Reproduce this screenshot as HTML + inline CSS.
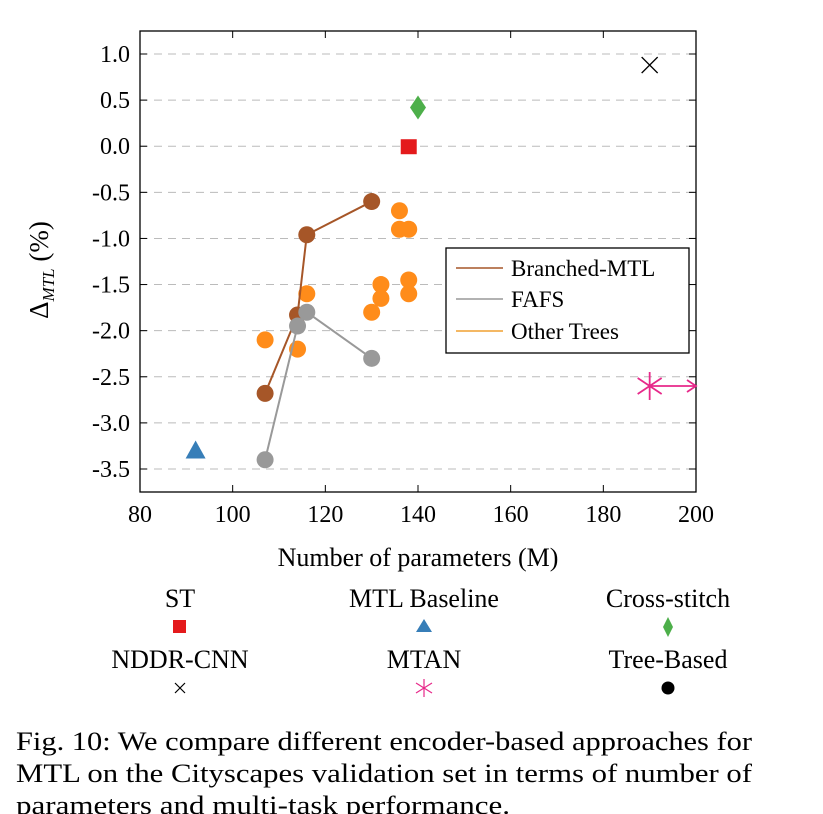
<!DOCTYPE html>
<html><head><meta charset="utf-8"><style>
html,body{margin:0;padding:0;background:#fff;}
svg{display:block;font-family:"Liberation Serif",serif;}
</style></head><body>
<svg id="chart" width="823" height="814" viewBox="0 0 823 814" xmlns="http://www.w3.org/2000/svg">
<g id="grid"></g>
<g id="axes"></g>
<g id="series"></g>
<g>
  <rect x="446" y="248" width="243" height="105" fill="#fff" stroke="#000" stroke-width="1.3"/>
  <line x1="456" y1="268" x2="503" y2="268" stroke="#a65628" stroke-width="1.5"/>
  <text x="511" y="276" font-size="23">Branched-MTL</text>
  <line x1="456" y1="299" x2="503" y2="299" stroke="#999" stroke-width="1.5"/>
  <text x="511" y="307" font-size="23">FAFS</text>
  <line x1="456" y1="331" x2="503" y2="331" stroke="#f0a030" stroke-width="1.5"/>
  <text x="511" y="339" font-size="23">Other Trees</text>
</g>
<text x="418" y="566" font-size="26" text-anchor="middle">Number of parameters (M)</text>
<text transform="translate(48,270) rotate(-90)" font-size="27" text-anchor="middle">Δ<tspan font-size="17" font-style="italic" dy="6">MTL</tspan><tspan dy="-6"> (%)</tspan></text>
<g font-size="26" text-anchor="middle">
  <text x="180" y="607">ST</text>
  <rect x="173" y="620" width="13" height="13" fill="#e41a1c"/>
  <text x="424" y="607">MTL Baseline</text>
  <polygon points="424,619 432,632 416,632" fill="#377eb8"/>
  <text x="668" y="607">Cross-stitch</text>
  <polygon points="668,617 673,627 668,637 663,627" fill="#4daf4a"/>
  <text x="180" y="668">NDDR-CNN</text>
  <path d="M175,683L185,693M185,683L175,693" stroke="#000" stroke-width="1.2"/>
  <text x="424" y="668">MTAN</text>
  <g stroke="#e7298a" stroke-width="1.2">
    <line x1="424" y1="679" x2="424" y2="697"/><line x1="416" y1="683" x2="432" y2="693"/><line x1="432" y1="683" x2="416" y2="693"/>
  </g>
  <text x="668" y="668">Tree-Based</text>
  <circle cx="668" cy="688" r="6.5" fill="#000"/>
</g>
<g font-size="26">
  <text x="16" y="750" textLength="736" lengthAdjust="spacingAndGlyphs">Fig. 10: We compare different encoder-based approaches for</text>
  <text x="16" y="782" textLength="736" lengthAdjust="spacingAndGlyphs">MTL on the Cityscapes validation set in terms of number of</text>
  <text x="16" y="814" textLength="494" lengthAdjust="spacingAndGlyphs">parameters and multi-task performance.</text>
</g>
</svg>
<script>
const xTicks = [80, 100, 120, 140, 160, 180, 200];
const yTicks = [1.0, 0.5, 0.0, -0.5, -1.0, -1.5, -2.0, -2.5, -3.0, -3.5];
const branchedX = [107, 114, 116, 130];
const branchedY = [-2.68, -1.83, -0.96, -0.6];
const fafsX = [107, 114, 116, 130];
const fafsY = [-3.4, -1.95, -1.8, -2.3];
const otherX = [107, 114, 116, 130, 132, 132, 136, 136, 138, 138, 138];
const otherY = [-2.1, -2.2, -1.6, -1.8, -1.65, -1.5, -0.7, -0.9, -0.9, -1.45, -1.6];
const stPoint = [138, 0.0];
const crossPoint = [140, 0.42];
const nddrPoint = [190, 0.88];
const mtlPoint = [92, -3.3];
const mtanPoint = [190, -2.6];

const NS = 'http://www.w3.org/2000/svg';
const L = 140, R = 696, T = 31, B = 492;
const xs = v => L + (v - 80) / 120 * (R - L);
const ys = v => 54 + (1 - v) / 4.5 * (469 - 54);
function mk(tag, attrs, parent) {
  const e = document.createElementNS(NS, tag);
  for (const k in attrs) e.setAttribute(k, attrs[k]);
  parent.appendChild(e);
  return e;
}
const grid = document.getElementById('grid');
const axes = document.getElementById('axes');
const series = document.getElementById('series');

yTicks.forEach(v => {
  const g = mk('line', {x1: L, x2: R, y1: ys(v), y2: ys(v), stroke: '#bbb', 'stroke-dasharray': '8,6', 'stroke-width': 1}, grid);
  
  
  const t = mk('text', {x: 130, y: ys(v) + 8, 'font-size': 24, 'text-anchor': 'end'}, axes);
  t.textContent = v.toFixed(1);
  
  
  mk('line', {x1: L, x2: L + 7, y1: ys(v), y2: ys(v), stroke: '#000'}, axes);
  mk('line', {x1: R - 7, x2: R, y1: ys(v), y2: ys(v), stroke: '#000'}, axes);
});
xTicks.forEach(v => {
  const t = mk('text', {x: xs(v), y: 522, 'font-size': 24, 'text-anchor': 'middle'}, axes);
  t.textContent = v;
  
  
  mk('line', {x1: xs(v), x2: xs(v), y1: B, y2: B - 7, stroke: '#000'}, axes);
  mk('line', {x1: xs(v), x2: xs(v), y1: T, y2: T + 7, stroke: '#000'}, axes);
});
const frame = mk('rect', {x: L, y: T, width: R - L, height: B - T, fill: 'none', stroke: '#000', 'stroke-width': 1.3}, axes);



function lineSeries(X, Y, color, name) {
  const p = mk('polyline', {points: X.map((x, i) => xs(x) + ',' + ys(Y[i])).join(' '), fill: 'none', stroke: color, 'stroke-width': 2}, series);
  
  
}
function dots(X, Y, color, name) {
  X.forEach((x, i) => {
    const c = mk('circle', {cx: xs(x), cy: ys(Y[i]), r: 8.5, fill: color}, series);
    
    
  });
}
dots(otherX, otherY, '#ff8c1a', 'other-trees');
lineSeries(branchedX, branchedY, '#a65628', 'branched-mtl');
dots(branchedX, branchedY, '#a65628', 'branched-mtl');
lineSeries(fafsX, fafsY, '#999', 'fafs');
dots(fafsX, fafsY, '#999', 'fafs');

let x, y, e;
x = xs(stPoint[0]); y = ys(stPoint[1]);
e = mk('rect', {x: x - 8, y: y - 7, width: 16, height: 15, fill: '#e41a1c'}, series);


x = xs(crossPoint[0]); y = ys(crossPoint[1]);
e = mk('polygon', {points: `${x},${y-12} ${x+8},${y} ${x},${y+12} ${x-8},${y}`, fill: '#4daf4a'}, series);


x = xs(mtlPoint[0]); y = ys(mtlPoint[1]);
e = mk('polygon', {points: `${x},${y-10} ${x+10},${y+8} ${x-10},${y+8}`, fill: '#377eb8'}, series);


x = xs(nddrPoint[0]); y = ys(nddrPoint[1]);
e = mk('path', {d: `M${x-8},${y-8}L${x+8},${y+8}M${x+8},${y-8}L${x-8},${y+8}`, stroke: '#000', 'stroke-width': 1.4}, series);


x = xs(mtanPoint[0]); y = ys(mtanPoint[1]);
e = mk('path', {d: `M${x},${y-14}L${x},${y+14}M${x-12},${y-8}L${x+12},${y+8}M${x+12},${y-8}L${x-12},${y+8}M${x},${y}L${R},${y}M${R-9},${y-6}L${R},${y}L${R-9},${y+6}`, stroke: '#e7298a', 'stroke-width': 1.8, fill: 'none'}, series);


</script>
</body></html>
